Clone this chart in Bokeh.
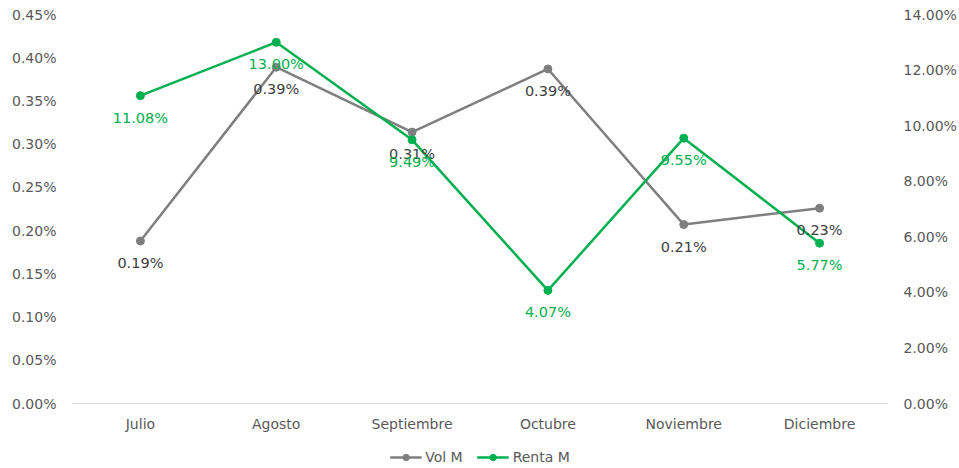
from bokeh.plotting import figure
from bokeh.models import (FactorRange, Range1d, LinearAxis, PrintfTickFormatter,
                          Legend, LegendItem, ColumnDataSource)
from bokeh.layouts import column
from bokeh.embed import file_html
from bokeh.resources import INLINE
from bokeh.core.properties import value

months = ["Julio", "Agosto", "Septiembre", "Octubre", "Noviembre", "Diciembre"]
vol_m = [0.188, 0.389, 0.314, 0.387, 0.207, 0.226]      # % (left axis)
renta_m = [11.08, 13.00, 9.49, 4.07, 9.55, 5.77]        # % (right axis)
series_names = ["Vol M", "Renta M"]

FONT = "DejaVu Sans"
FS = "14.5px"
GRAY = "#7F7F7F"
GREEN = "#00B050"
AXIS_TXT = "#595959"

src = ColumnDataSource(dict(
    x=months, vol=vol_m, renta=renta_m,
    vol_lbl=[f"{v:.2f}%" for v in vol_m],
    renta_lbl=[f"{v:.2f}%" for v in renta_m],
))

p = figure(x_range=FactorRange(*months), y_range=Range1d(0, 0.45),
           width=959, height=446,
           min_border_left=72, min_border_right=0, min_border_top=14, min_border_bottom=43,
           output_backend="svg", toolbar_location=None)
p.extra_y_ranges = {"right": Range1d(0, 14)}
p.outline_line_color = None
p.grid.grid_line_color = None

p.yaxis.ticker = [i * 0.05 for i in range(10)]
p.yaxis.formatter = PrintfTickFormatter(format="%.2f%%")
ax_r = LinearAxis(y_range_name="right", ticker=[i * 2 for i in range(8)],
                  formatter=PrintfTickFormatter(format="%.2f%%"))
p.add_layout(ax_r, "right")

for ax in p.yaxis:
    ax.axis_line_color = None
    ax.major_tick_line_color = None
    ax.minor_tick_line_color = None
    ax.major_label_text_font = FONT
    ax.major_label_text_font_size = "14px"
    ax.major_label_text_color = AXIS_TXT
    ax.major_label_standoff = 10

xa = p.xaxis[0]
xa.axis_line_color = "#D9D9D9"
xa.axis_line_width = 1
xa.major_tick_line_color = None
xa.minor_tick_line_color = None
xa.major_label_text_font = FONT
xa.major_label_text_font_size = "14px"
xa.major_label_text_color = AXIS_TXT
xa.major_label_standoff = 6

p.line("x", "vol", source=src, color=GRAY, line_width=2.5)
p.scatter("x", "vol", source=src, size=8, color=GRAY)
p.line("x", "renta", source=src, color=GREEN, line_width=2.5, y_range_name="right")
p.scatter("x", "renta", source=src, size=8, color=GREEN, y_range_name="right")

p.text("x", "vol", text="vol_lbl", source=src, y_offset=22, text_align="center",
       text_baseline="middle", text_font=value(FONT), text_font_size=FS,
       text_color="#404040")
p.text("x", "renta", text="renta_lbl", source=src, y_offset=22, text_align="center",
       text_baseline="middle", text_font=value(FONT), text_font_size=FS,
       text_color=GREEN, y_range_name="right")

# legend strip (series renderers kept out of its visible range; only the legend shows)
lg = figure(width=959, height=22, x_range=FactorRange(*months), y_range=Range1d(1000, 1001),
            x_axis_type=None, y_axis_type=None, min_border=0,
            output_backend="svg", toolbar_location=None)
lg.outline_line_color = None
lg.grid.grid_line_color = None
items = []
for name, colname, col in zip(series_names, ["vol", "renta"], [GRAY, GREEN]):
    rl = lg.line("x", colname, source=src, color=col, line_width=2.5)
    rs = lg.scatter("x", colname, source=src, size=8, color=col)
    items.append(LegendItem(label=name, renderers=[rl, rs]))

legend = Legend(items=items, orientation="horizontal", location="center")
legend.border_line_color = None
legend.background_fill_alpha = 0
legend.label_text_font = FONT
legend.label_text_font_size = "14px"
legend.label_text_color = AXIS_TXT
legend.glyph_width = 32
legend.glyph_height = 16
legend.label_height = 16
legend.spacing = 14
legend.label_standoff = 4
legend.margin = 0
legend.padding = 0
lg.add_layout(legend, "center")

layout = column(p, lg, spacing=0)
open("out.html", "w").write(file_html(layout, INLINE))
